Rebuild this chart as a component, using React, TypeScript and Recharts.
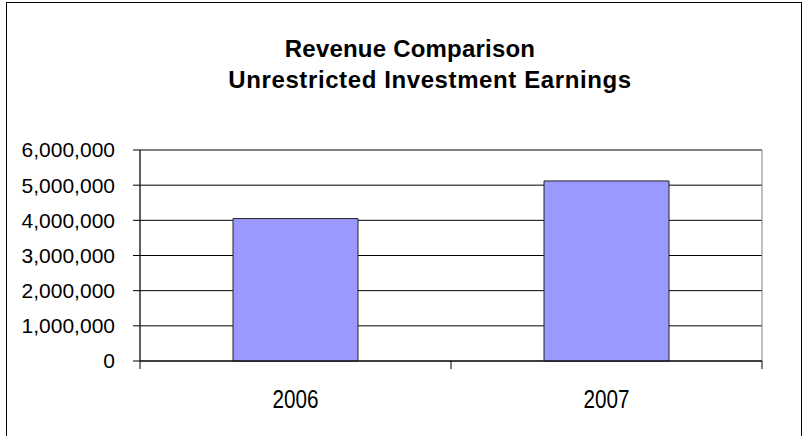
import React from "react";
import { Bar, BarChart, CartesianGrid, ReferenceArea, XAxis, YAxis } from "recharts";

const years = ["2006", "2007"];
const earnings = [4050000, 5120000];
const yTicks = [0, 1000000, 2000000, 3000000, 4000000, 5000000, 6000000];
const titleLines = ["Revenue Comparison", "Unrestricted Investment Earnings"];

const data = years.map((year, i) => ({ year, earnings: earnings[i] }));

const font = "'Liberation Sans', Arial, sans-serif";

// x labels plus tick marks on the category boundaries (Excel style)
function YearTick(props: any) {
  const { x, y, payload, index, visibleTicksCount } = props;
  const half = payload?.offset ?? 0;
  const isLast = index === visibleTicksCount - 1;
  return (
    <g>
      <line x1={x - half} x2={x - half} y1={y - 8} y2={y} stroke="#000" />
      {isLast && <line x1={x + half} x2={x + half} y1={y - 8} y2={y} stroke="#000" />}
      <text
        x={x}
        y={y + 39}
        textAnchor="middle"
        fill="#000"
        fontSize={25}
        fontFamily={font}
        textLength={46}
        lengthAdjust="spacingAndGlyphs"
      >
        {payload.value}
      </text>
    </g>
  );
}

export default function App() {
  return (
    <div style={{ position: "absolute", left: 0, top: 0, width: 803, height: 436, background: "#fff", overflow: "hidden" }}>
      <div style={{ position: "absolute", left: 6, top: 2, width: 794, height: 460, border: "1px solid #000" }} />
      {titleLines.map((line, i) => (
        <div
          key={line}
          style={{
            position: "absolute",
            left: i === 0 ? 410 : 430,
            top: i === 0 ? 37 : 68,
            transform: "translateX(-50%)",
            whiteSpace: "nowrap",
            fontFamily: font,
            fontWeight: "bold",
            fontSize: 24,
            lineHeight: "24px",
            letterSpacing: i === 0 ? 0.2 : 0.6,
            color: "#000",
          }}
        >
          {line}
        </div>
      ))}
      <div style={{ position: "absolute", left: 0, top: 0 }}>
        <BarChart width={803} height={436} data={data} margin={{ top: 150, right: 41, bottom: 15, left: 0 }}>
          <CartesianGrid vertical={false} stroke="#000" strokeOpacity={1} />
          <ReferenceArea y1={0} y2={6000000} fill="none" stroke="#808080" />
          <XAxis
            dataKey="year"
            height={60}
            axisLine={{ stroke: "#000" }}
            tickLine={false}
            tickSize={8}
            tickMargin={0}
            tick={<YearTick />}
            interval={0}
          />
          <YAxis
            width={140}
            domain={[0, 6000000]}
            ticks={yTicks}
            interval={0}
            tickFormatter={(v: number) => v.toLocaleString("en-US")}
            axisLine={{ stroke: "#000" }}
            tickLine={{ stroke: "#000" }}
            tickSize={7}
            tickMargin={18}
            tick={{ fill: "#000", fontSize: 21, fontFamily: font }}
          />
          <Bar dataKey="earnings" fill="#9999FF" stroke="#222" strokeWidth={1} barSize={125} isAnimationActive={false} />
        </BarChart>
      </div>
    </div>
  );
}
